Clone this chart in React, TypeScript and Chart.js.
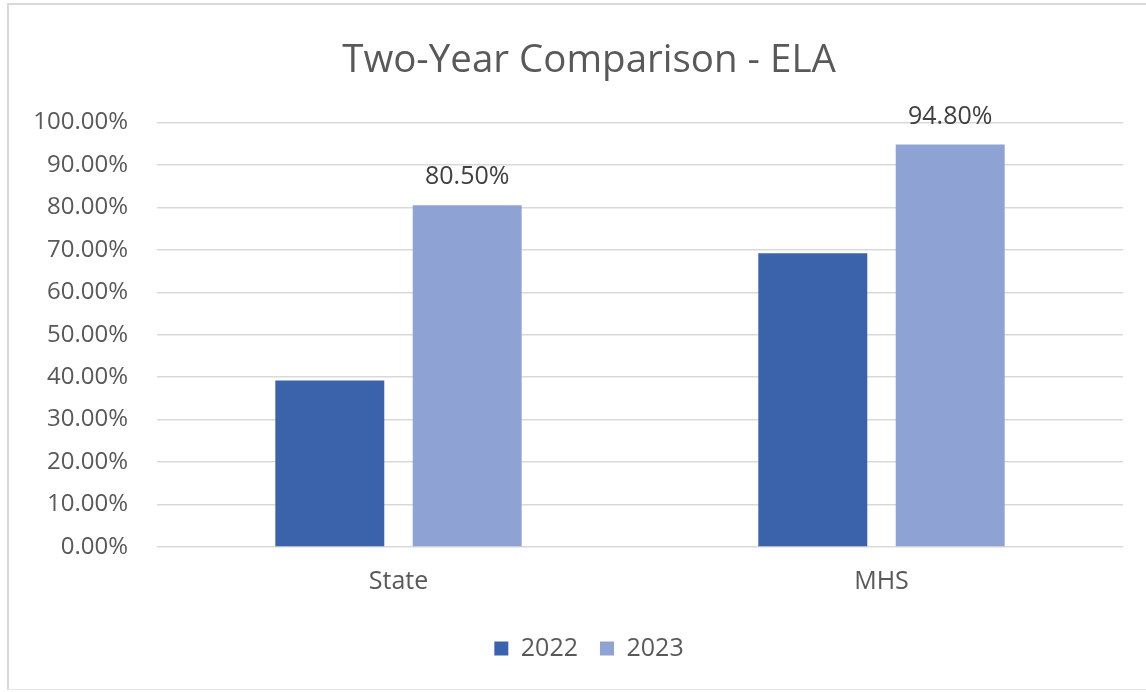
import React, { useEffect, useRef } from "react";
import { Chart, registerables } from "chart.js";

Chart.register(...registerables);

const categories = ["State", "MHS"];
const seriesNames = ["2022", "2023"];
const values2022 = [39.2, 69.2];
const values2023 = [80.5, 94.8];
const yMin = 0;
const yMax = 100;
const yStep = 10;

const FONT = "'Open Sans', 'DejaVu Sans', sans-serif";

const dataLabelPlugin = {
  id: "dataLabels2023",
  afterDatasetsDraw(chart: any) {
    const ctx = chart.ctx;
    const meta = chart.getDatasetMeta(1);
    const data = chart.data.datasets[1].data;
    ctx.save();
    ctx.font = `25px ${FONT}`;
    ctx.fillStyle = "#404040";
    ctx.textAlign = "center";
    ctx.textBaseline = "middle";
    meta.data.forEach((bar: any, i: number) => {
      ctx.fillText(Number(data[i]).toFixed(2) + "%", bar.x, bar.y - 28);
    });
    ctx.restore();
  },
};

export default function App() {
  const canvasRef = useRef<HTMLCanvasElement | null>(null);

  useEffect(() => {
    if (!canvasRef.current) return;
    const chart = new Chart(canvasRef.current, {
      type: "bar",
      data: {
        labels: categories,
        datasets: [
          {
            label: seriesNames[0],
            data: values2022,
            backgroundColor: "#3B63AC",
            categoryPercentage: 0.569,
            barPercentage: 0.793,
          },
          {
            label: seriesNames[1],
            data: values2023,
            backgroundColor: "#8EA3D4",
            categoryPercentage: 0.569,
            barPercentage: 0.793,
          },
        ],
      },
      options: {
        animation: false,
        responsive: true,
        maintainAspectRatio: false,
        layout: { padding: { left: 55, right: 23, top: 0, bottom: 21 } },
        plugins: {
          title: {
            display: true,
            text: "Two-Year Comparison - ELA",
            color: "#595959",
            font: { family: FONT, size: 38.5, weight: "normal", lineHeight: 1.2 },
            padding: { top: 38, bottom: 38.3 },
          },
          legend: {
            display: true,
            position: "bottom",
            labels: {
              color: "#595959",
              font: { family: FONT, size: 25 },
              boxWidth: 14,
              boxHeight: 14,
              padding: 22,
            },
          },
          tooltip: { enabled: false },
        },
        scales: {
          x: {
            grid: { display: false, drawTicks: false },
            border: { display: false },
            ticks: {
              color: "#595959",
              font: { family: FONT, size: 25 },
              padding: 20,
            },
            afterFit(scale: any) {
              scale.height = 67;
            },
          },
          y: {
            min: yMin,
            max: yMax,
            grid: { color: "#D9D9D9", lineWidth: 1.5, drawTicks: false, tickLength: 0 },
            border: { display: false },
            ticks: {
              stepSize: yStep,
              color: "#595959",
              font: { family: FONT, size: 24 },
              padding: 29,
              callback: (v: any) => Number(v).toFixed(2) + "%",
            },
            afterFit(scale: any) {
              scale.width = 102;
              // let the right-aligned tick labels extend left of the axis box
              scale._computeLabelArea = () => undefined;
            },
          },
        },
      },
      plugins: [dataLabelPlugin],
    });
    return () => chart.destroy();
  }, []);

  return (
    <div
      style={{
        position: "fixed",
        left: 0,
        top: 0,
        width: 1146,
        height: 692,
        background: "#ffffff",
        overflow: "hidden",
      }}
    >
      <div
        style={{
          position: "absolute",
          left: 7,
          top: 3,
          width: 1160,
          height: 687,
          borderLeft: "2px solid #D9D9D9",
          borderTop: "2px solid #D9D9D9",
          borderBottom: "1px solid #E6E6E6",
          boxSizing: "border-box",
        }}
      />
      <div style={{ position: "absolute", left: 0, top: 0, width: 1146, height: 692 }}>
        <canvas ref={canvasRef} />
      </div>
    </div>
  );
}
